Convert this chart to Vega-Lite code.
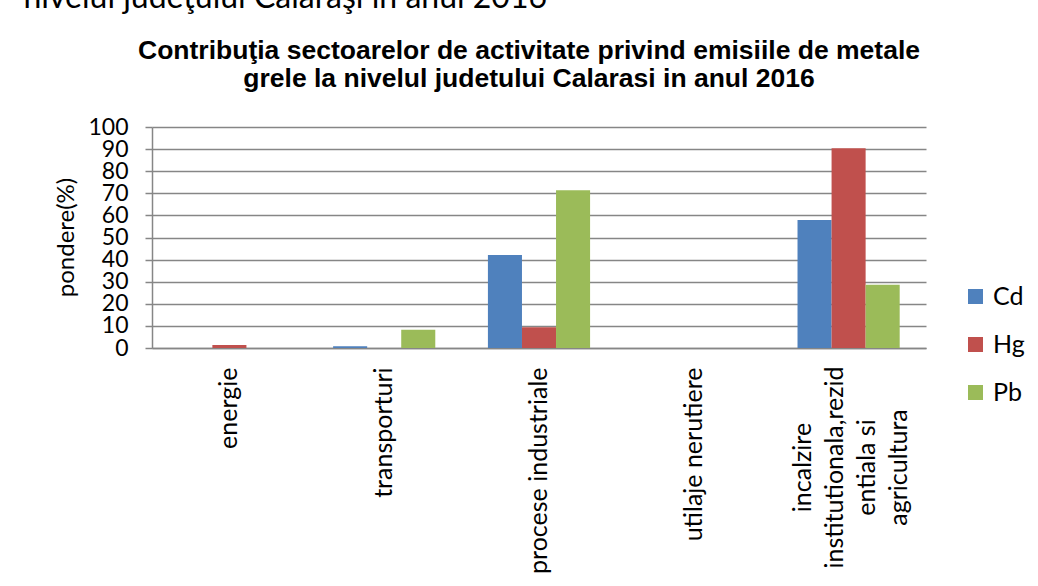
{
  "$schema": "https://vega.github.io/schema/vega-lite/v6.json",
  "width": 774,
  "height": 221,
  "autosize": {"type": "none"},
  "padding": {"left": 152, "top": 127, "right": 112, "bottom": 238},
  "background": "white",
  "title": {
    "text": ["Contribuţia sectoarelor de activitate privind emisiile de metale", "grele la nivelul judetului Calarasi  in anul 2016"],
    "font": "Liberation Sans",
    "fontSize": 26.5,
    "fontWeight": "bold",
    "color": "black",
    "anchor": "middle",
    "lineHeight": 28,
    "offset": 0,
    "dy": 111,
    "dx": -10
  },
  "data": {
    "values": [
      {"sector": "energie", "metal": "Cd", "value": 0},
      {"sector": "energie", "metal": "Hg", "value": 1.4},
      {"sector": "energie", "metal": "Pb", "value": 0},
      {"sector": "transporturi", "metal": "Cd", "value": 0.8},
      {"sector": "transporturi", "metal": "Hg", "value": 0},
      {"sector": "transporturi", "metal": "Pb", "value": 8.3},
      {"sector": "procese industriale", "metal": "Cd", "value": 42.1},
      {"sector": "procese industriale", "metal": "Hg", "value": 9.4},
      {"sector": "procese industriale", "metal": "Pb", "value": 71.4},
      {"sector": "utilaje nerutiere", "metal": "Cd", "value": 0},
      {"sector": "utilaje nerutiere", "metal": "Hg", "value": 0},
      {"sector": "utilaje nerutiere", "metal": "Pb", "value": 0},
      {"sector": "incalzire institutionala,rezidentiala si agricultura", "metal": "Cd", "value": 57.9},
      {"sector": "incalzire institutionala,rezidentiala si agricultura", "metal": "Hg", "value": 90.4},
      {"sector": "incalzire institutionala,rezidentiala si agricultura", "metal": "Pb", "value": 28.6}
    ]
  },
  "mark": {"type": "bar"},
  "encoding": {
    "x": {
      "field": "sector",
      "type": "nominal",
      "sort": null,
      "scale": {"paddingInner": 0.34, "paddingOuter": 0.17},
      "axis": {
        "title": "nivelul judeţului Călăraşi în anul 2016",
        "titleFont": "Lato",
        "titleFontSize": 32,
        "titleFontWeight": "normal",
        "titleColor": "black",
        "titleX": -129,
        "titleY": -341,
        "titleAlign": "left",
        "titleAnchor": "start",
        "titleBaseline": "alphabetic",
        "labelAngle": -90,
        "labelFont": "Lato",
        "labelFontSize": 25,
        "labelColor": "black",
        "labelLineHeight": 32,
        "labelLimit": 400,
        "labelExpr": "indexof(datum.value, 'incalzire') == 0 ? ['incalzire', 'institutionala,rezid', 'entiala si', 'agricultura'] : datum.value",
        "labelAlign": {"condition": {"test": "indexof(datum.value, 'incalzire') == 0", "value": "center"}, "value": "right"},
        "labelPadding": {"condition": {"test": "indexof(datum.value, 'incalzire') == 0", "value": 119}, "value": 19},
        "labelOffset": {"condition": {"test": "indexof(datum.value, 'incalzire') == 0", "value": -46}, "value": 0},
        "labelBaseline": "middle",
        "ticks": false,
        "domainColor": "#868686",
        "domainWidth": 1.5,
        "grid": false
      }
    },
    "xOffset": {
      "field": "metal",
      "type": "nominal",
      "scale": {"paddingInner": 0, "paddingOuter": 0}
    },
    "y": {
      "field": "value",
      "type": "quantitative",
      "scale": {"domain": [0, 100], "nice": false},
      "axis": {
        "title": "pondere(%)",
        "titleFont": "Lato",
        "titleFontSize": 24,
        "titleFontWeight": "normal",
        "titleColor": "black",
        "titleAngle": -90,
        "titleX": -86,
        "titleY": 110,
        "titleAlign": "center",
        "titleBaseline": "middle",
        "values": [0, 10, 20, 30, 40, 50, 60, 70, 80, 90, 100],
        "labelFont": "Lato",
        "labelFontSize": 23,
        "labelColor": "black",
        "labelPadding": 17,
        "labelOverlap": false,
        "labelFlush": false,
        "tickSize": 7,
        "tickColor": "#868686",
        "tickWidth": 1.5,
        "domainColor": "#868686",
        "domainWidth": 1.5,
        "grid": true,
        "gridColor": "#868686",
        "gridWidth": 1.5
      }
    },
    "color": {
      "field": "metal",
      "type": "nominal",
      "scale": {"domain": ["Cd", "Hg", "Pb"], "range": ["#4F81BD", "#C0504D", "#9BBB59"]},
      "legend": {
        "title": null,
        "orient": "none",
        "legendX": 811,
        "legendY": 157,
        "padding": 0,
        "symbolType": "square",
        "symbolSize": 225,
        "symbolStrokeWidth": 0,
        "symbolOpacity": 1,
        "labelFont": "Lato",
        "labelFontSize": 25,
        "labelColor": "black",
        "labelOffset": 5,
        "rowPadding": 22
      }
    }
  },
  "config": {
    "view": {"stroke": null},
    "axis": {"gridDash": []}
  }
}
